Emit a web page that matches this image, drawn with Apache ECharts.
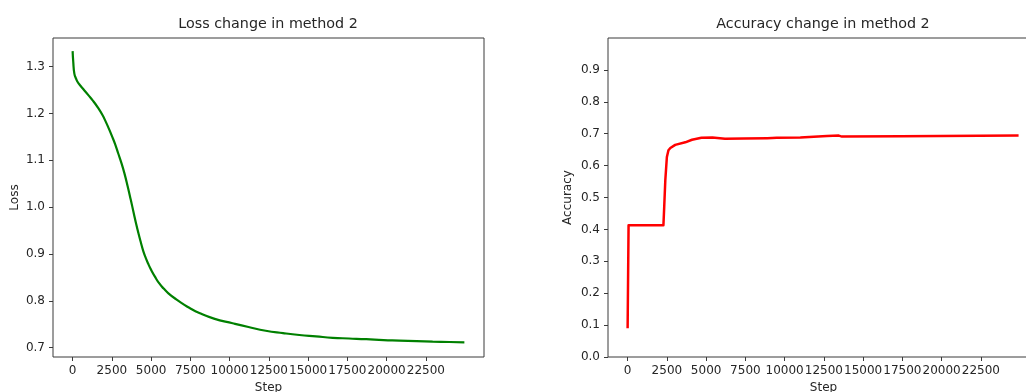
<!DOCTYPE html>
<html>
<head>
<meta charset="utf-8">
<script src="https://cdn.jsdelivr.net/npm/echarts@6/dist/echarts.min.js"></script>
<style>
  html, body { margin: 0; padding: 0; background: #fff; }
  #chart { width: 1026px; height: 392px; }
</style>
</head>
<body>
<div id="chart"></div>
<script>
// loss curve (step, value)
const lossSteps = [0, 40, 110, 220, 320, 500, 750, 1000, 1275, 1600, 1910, 2100, 2300, 2500, 2700, 2900, 3100, 3300, 3500, 3700, 3900, 4040, 4200, 4350, 4500, 4650, 4800, 5000, 5250, 5520, 5800, 6100, 6600, 7000, 7430, 8070, 9000, 10190, 11200, 12300, 13400, 14440, 15500, 16560, 17600, 18700, 19800, 20800, 21900, 22930, 24000, 24950];
const lossValues = [1.333, 1.310, 1.285, 1.274, 1.267, 1.259, 1.249, 1.239, 1.228, 1.213, 1.196, 1.183, 1.168, 1.152, 1.135, 1.115, 1.095, 1.072, 1.045, 1.016, 0.986, 0.965, 0.943, 0.924, 0.906, 0.892, 0.880, 0.866, 0.851, 0.837, 0.826, 0.816, 0.803, 0.794, 0.785, 0.774, 0.762, 0.752, 0.744, 0.736, 0.731, 0.727, 0.724, 0.721, 0.7195, 0.718, 0.716, 0.715, 0.7137, 0.7127, 0.712, 0.7113];

// accuracy curve (step, value)
const accSteps = [0, 60, 2280, 2330, 2400, 2500, 2600, 2720, 3030, 3670, 4100, 4700, 5400, 6200, 7400, 8900, 9500, 11000, 12700, 13450, 13650, 17400, 24900];
const accValues = [0.09, 0.413, 0.413, 0.47, 0.554, 0.627, 0.648, 0.655, 0.665, 0.673, 0.681, 0.687, 0.688, 0.684, 0.685, 0.686, 0.687, 0.688, 0.693, 0.694, 0.691, 0.692, 0.694];

// tick labels
const stepTicks = [0, 2500, 5000, 7500, 10000, 12500, 15000, 17500, 20000, 22500];
const lossTicks = [0.7, 0.8, 0.9, 1.0, 1.1, 1.2, 1.3];
const accTicks = [0, 0.1, 0.2, 0.3, 0.4, 0.5, 0.6, 0.7, 0.8, 0.9];

const textColor = "#262626";
const frameColor = "#3a3a3a";
const font = "DejaVu Sans";

const chart = echarts.init(document.getElementById("chart"));

function xAxis(gridIndex) {
  return {
    type: "value",
    gridIndex,
    min: -1250,
    max: 26200,
    name: "Step",
    nameLocation: "middle",
    nameGap: 23,
    nameTextStyle: { color: textColor, fontFamily: font, fontSize: 12 },
    axisLine: { show: false, onZero: false },
    axisTick: { show: true, length: 4, lineStyle: { color: frameColor }, customValues: stepTicks },
    axisLabel: {
      color: textColor, fontFamily: font, fontSize: 12, margin: 8,
      customValues: stepTicks, hideOverlap: false,
      showMinLabel: true, showMaxLabel: true,
      formatter: (v) => String(v),
    },
    splitLine: { show: false },
  };
}

function yAxis(gridIndex, name, min, max, ticks, gap) {
  return {
    type: "value",
    gridIndex,
    min,
    max,
    name,
    nameLocation: "middle",
    nameGap: gap,
    nameTextStyle: { color: textColor, fontFamily: font, fontSize: 12 },
    axisLine: { show: false, onZero: false },
    axisTick: { show: true, length: 4, lineStyle: { color: frameColor }, customValues: ticks },
    axisLabel: {
      color: textColor, fontFamily: font, fontSize: 12, margin: 8,
      customValues: ticks, hideOverlap: false,
      formatter: (v) => v.toFixed(1),
    },
    splitLine: { show: false },
  };
}

const option = {
  animation: false,
  backgroundColor: "#fff",
  title: [
    {
      text: "Loss change in method 2",
      left: 268, top: 17, padding: 0, textAlign: "center",
      textStyle: { color: textColor, fontFamily: font, fontSize: 14.3, fontWeight: "normal" },
    },
    {
      text: "Accuracy change in method 2",
      left: 823, top: 17, padding: 0, textAlign: "center",
      textStyle: { color: textColor, fontFamily: font, fontSize: 14.3, fontWeight: "normal" },
    },
  ],
  grid: [
    { left: 53, top: 38, width: 431, height: 319, outerBoundsMode: "none", show: true, borderColor: frameColor, borderWidth: 1, backgroundColor: "transparent" },
    { left: 608, top: 38, width: 431, height: 319, outerBoundsMode: "none", show: true, borderColor: frameColor, borderWidth: 1, backgroundColor: "transparent" },
  ],
  xAxis: [xAxis(0), xAxis(1)],
  yAxis: [
    yAxis(0, "Loss", 0.68, 1.361, lossTicks, 32),
    yAxis(1, "Accuracy", 0, 1, accTicks, 34),
  ],
  series: [
    {
      type: "line",
      xAxisIndex: 0, yAxisIndex: 0,
      data: lossSteps.map((s, i) => [s, lossValues[i]]),
      showSymbol: false,
      smooth: 0.5,
      lineStyle: { color: "#008000", width: 2.2 },
    },
    {
      type: "line",
      xAxisIndex: 1, yAxisIndex: 1,
      data: accSteps.map((s, i) => [s, accValues[i]]),
      showSymbol: false,
      lineStyle: { color: "#ff0000", width: 2.5, join: "round" },
    },
  ],
};

chart.setOption(option);
</script>
</body>
</html>
